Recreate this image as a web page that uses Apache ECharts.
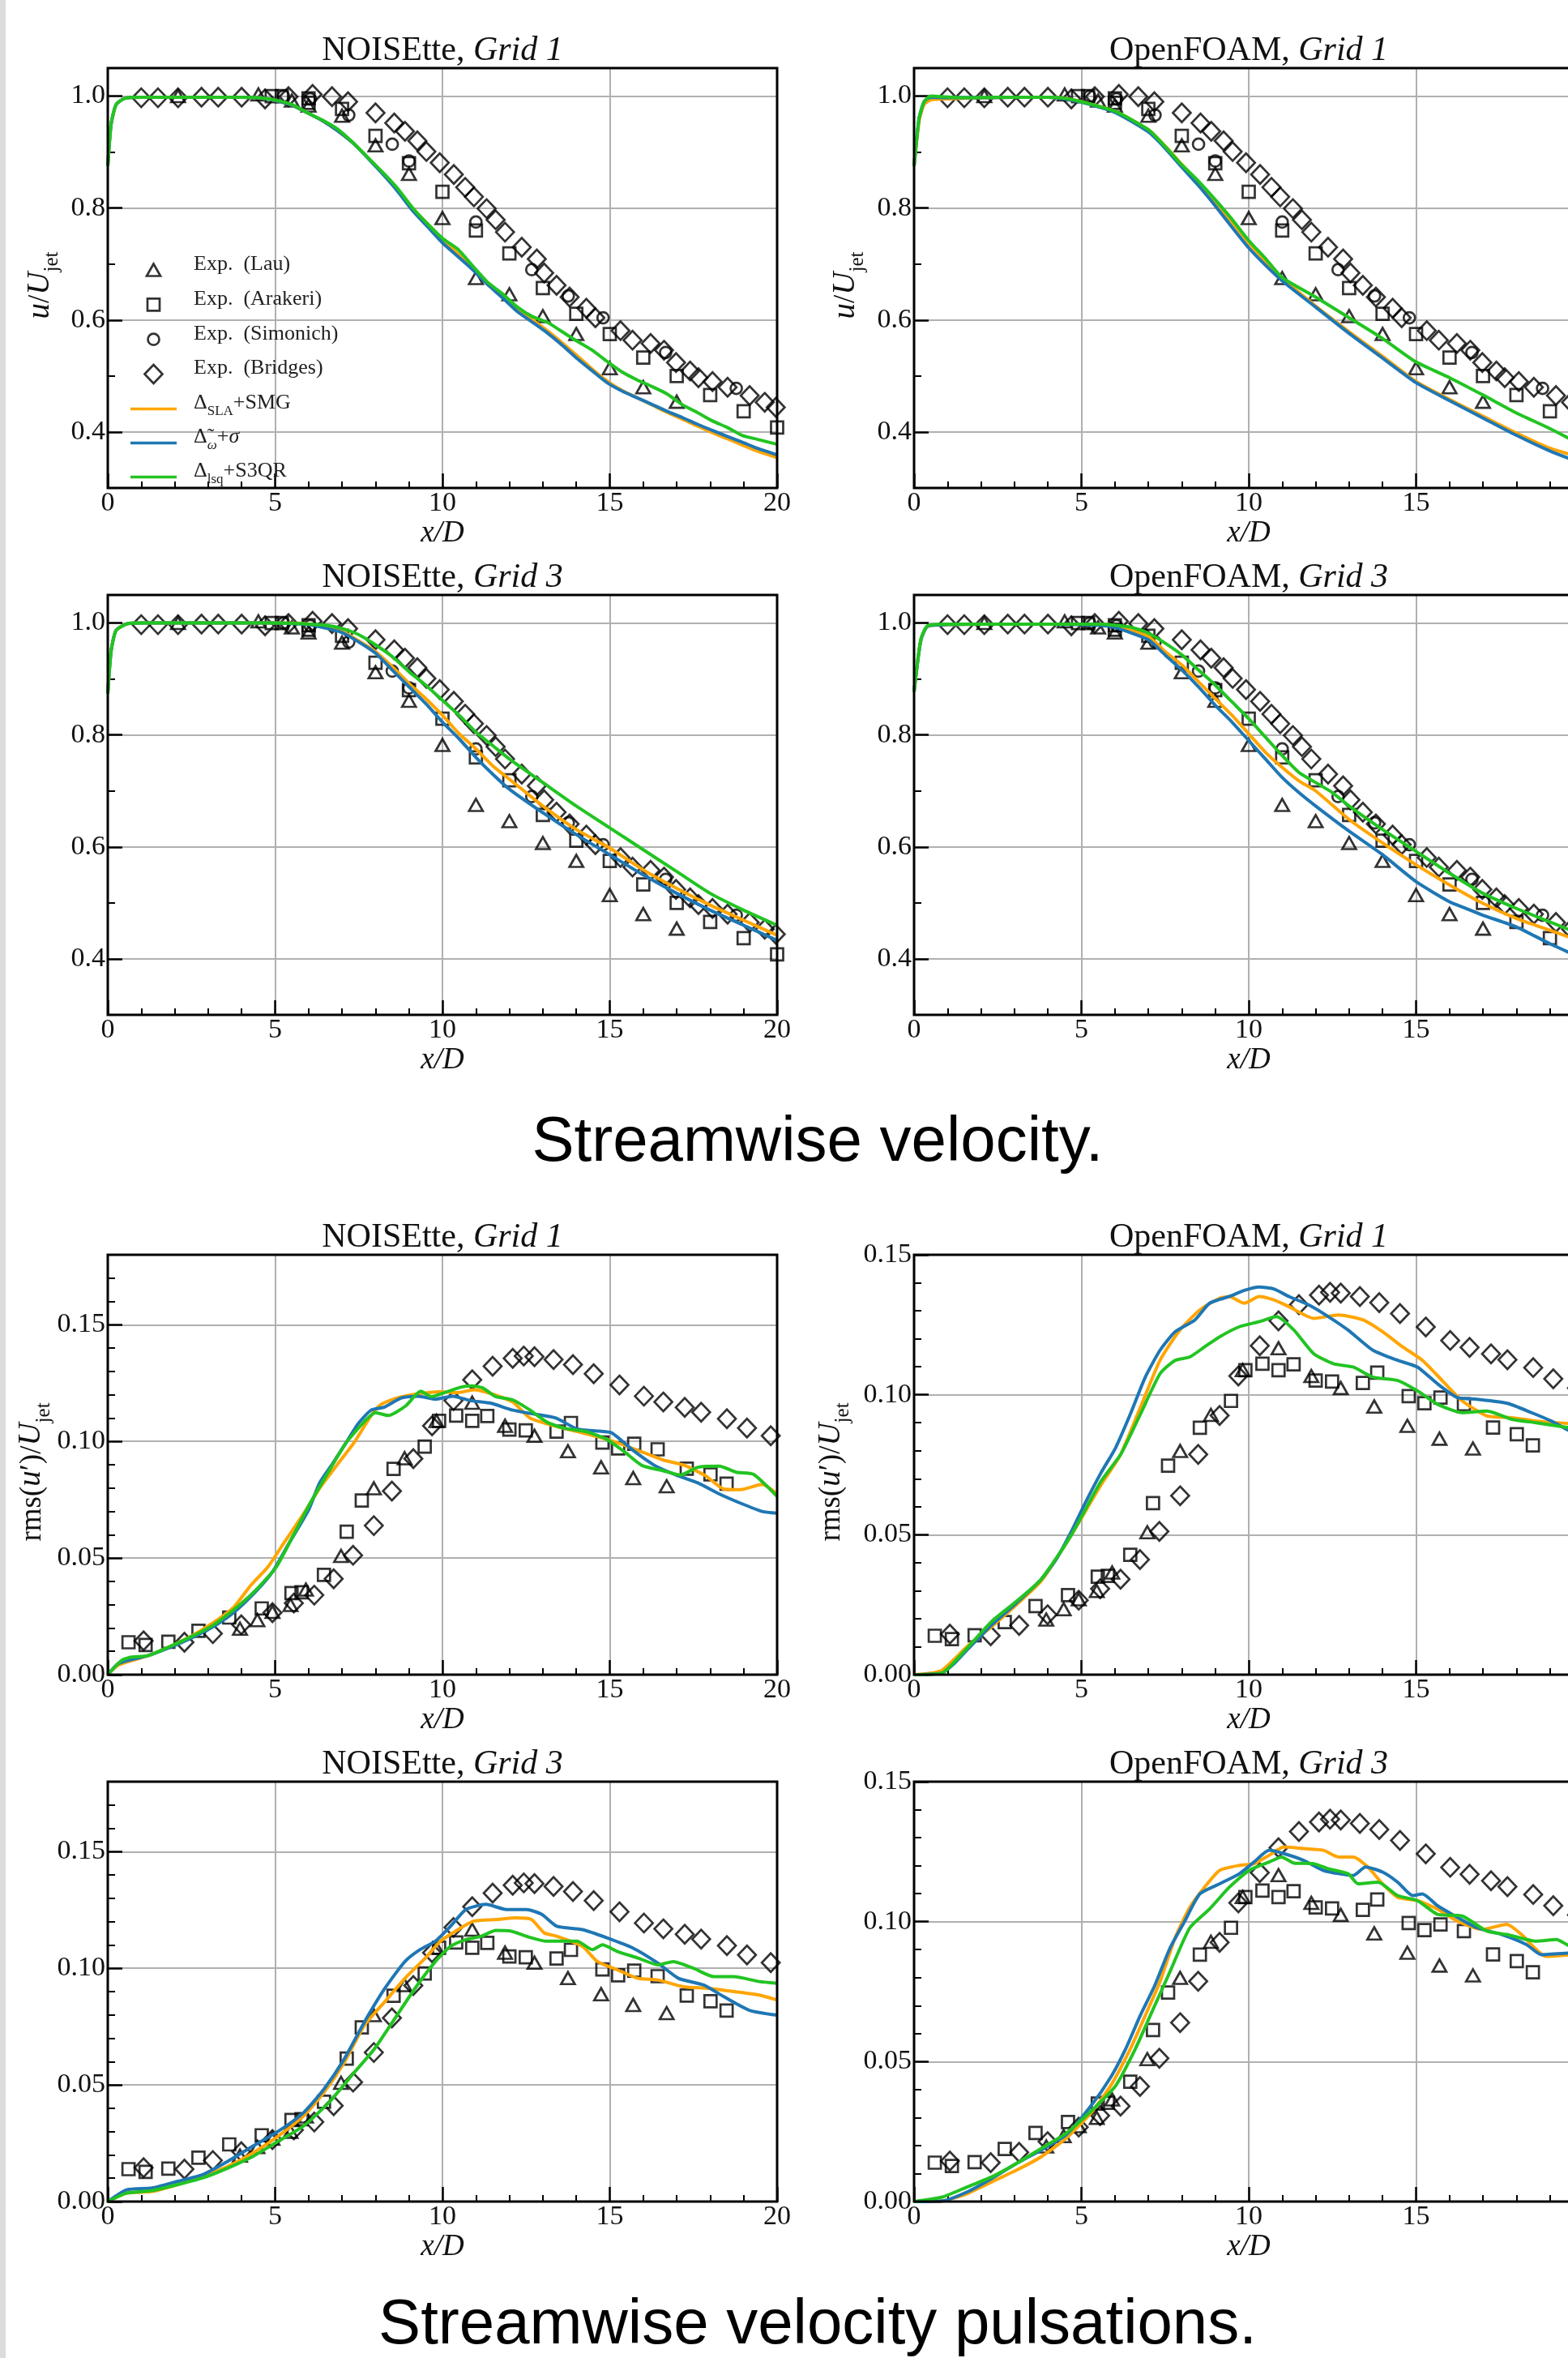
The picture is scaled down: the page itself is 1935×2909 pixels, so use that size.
<!DOCTYPE html>
<html>
<head>
<meta charset="utf-8">
<script src="https://cdn.jsdelivr.net/npm/echarts@6/dist/echarts.min.js"></script>
<style>
html, body { margin: 0; padding: 0; background: #fff; overflow: hidden; }
#chart { width: 1935px; height: 2909px; }
</style>
</head>
<body>
<div id="chart"></div>
<script>
// ---------- experimental data, u/U_jet (same in the four velocity panels) ----------
const uLau = [[2.1,1.0],[4.5,1.003],[5.5,0.992],[6.0,0.983],[7.0,0.965],[8.0,0.912],[9.0,0.861],[10.0,0.782],[11.0,0.675],[12.0,0.646],[13.0,0.607],[14.0,0.575],[15.0,0.514],[16.0,0.480],[17.0,0.454]];
const uArakeri = [[4.9,1.0],[5.2,1.0],[6.0,0.996],[6.0,0.988],[7.0,0.977],[8.0,0.929],[9.0,0.880],[10.0,0.829],[11.0,0.760],[12.0,0.719],[13.0,0.657],[14.0,0.611],[15.0,0.575],[16.0,0.533],[17.0,0.500],[18.0,0.466],[19.0,0.437],[20.0,0.408]];
const uSimonich = [[5.25,1.0],[6.05,0.995],[7.2,0.966],[8.5,0.914],[9.0,0.884],[11.0,0.775],[12.67,0.690],[13.76,0.643],[14.8,0.604],[16.67,0.542],[18.78,0.478]];
const uBridges = [[1.0,0.997],[1.5,0.997],[2.1,0.997],[2.8,0.998],[3.3,0.998],[4.0,0.998],[4.7,0.995],[5.4,0.999],[6.12,1.003],[6.7,0.999],[7.18,0.99],[8.0,0.97],[8.56,0.952],[8.88,0.937],[9.25,0.92],[9.52,0.901],[9.92,0.881],[10.34,0.86],[10.68,0.837],[10.94,0.82],[11.32,0.799],[11.59,0.779],[11.87,0.757],[12.37,0.73],[12.82,0.709],[13.04,0.684],[13.41,0.662],[13.8,0.641],[14.3,0.621],[14.57,0.604],[15.32,0.581],[15.68,0.564],[16.22,0.558],[16.62,0.546],[16.98,0.524],[17.4,0.509],[17.65,0.497],[18.07,0.49],[18.52,0.48],[19.18,0.465],[19.63,0.453],[19.96,0.444]];

// ---------- experimental data, rms(u')/U_jet (same in the four pulsation panels) ----------
const rmsLau = [[3.95,0.0197],[4.47,0.0234],[4.92,0.0269],[5.46,0.0299],[5.92,0.0365],[6.97,0.0509],[7.95,0.0799],[8.87,0.0928],[9.82,0.1088],[10.89,0.1166],[11.87,0.1067],[12.75,0.1024],[13.75,0.0958],[14.74,0.0889],[15.70,0.0843],[16.70,0.0808]];
const rmsArakeri = [[0.62,0.0139],[1.13,0.0127],[1.81,0.0141],[2.71,0.0188],[3.63,0.0245],[4.60,0.0284],[5.49,0.0350],[5.79,0.0353],[6.46,0.0428],[7.14,0.0613],[7.59,0.0747],[8.54,0.0882],[9.47,0.0978],[9.90,0.1088],[10.41,0.1111],[10.89,0.1088],[11.34,0.1109],[12.00,0.1051],[12.49,0.1047],[13.41,0.1042],[13.84,0.1079],[14.78,0.0995],[15.25,0.0970],[15.73,0.0990],[16.43,0.0966],[17.30,0.0883],[18.01,0.0859],[18.49,0.0819]];
const rmsBridges = [[1.07,0.0145],[2.29,0.0139],[3.14,0.0176],[3.99,0.0214],[4.92,0.0266],[5.56,0.0307],[6.17,0.0341],[6.75,0.0411],[7.33,0.0512],[7.95,0.0639],[8.49,0.0787],[9.13,0.0926],[9.69,0.1067],[10.33,0.1175],[10.89,0.1264],[11.50,0.1322],[12.10,0.1356],[12.43,0.1366],[12.75,0.1363],[13.32,0.1351],[13.90,0.1329],[14.52,0.1290],[15.29,0.1242],[16.02,0.1194],[16.60,0.1169],[17.24,0.1146],[17.73,0.1125],[18.50,0.1097],[19.10,0.1057],[19.81,0.1024]];

// ---------- simulations, u/U_jet ----------
const u_N1_sla = [[0,0.875],[0.1,0.95],[0.25,0.985],[0.5,0.996],[1,0.998],[2,0.998],[3,0.998],[4,0.998],[4.5,0.997],[5,0.992],[5.5,0.984],[5.97,0.970],[6.42,0.956],[6.87,0.938],[7.31,0.917],[7.76,0.891],[8.21,0.862],[8.66,0.833],[9.10,0.800],[9.55,0.772],[10.0,0.745],[10.45,0.719],[10.9,0.694],[11.34,0.667],[11.79,0.643],[12.24,0.619],[12.69,0.600],[13.13,0.581],[13.58,0.559],[14.03,0.536],[14.48,0.512],[14.92,0.491],[15.37,0.474],[15.82,0.461],[16.27,0.448],[16.71,0.435],[17.16,0.423],[17.61,0.411],[18.06,0.399],[18.51,0.388],[18.95,0.377],[19.40,0.366],[20,0.354]];
const u_N1_om = [[0,0.875],[0.1,0.95],[0.25,0.985],[0.5,0.996],[1,0.998],[2,0.998],[3,0.998],[4,0.998],[4.5,0.997],[5,0.992],[5.5,0.984],[5.97,0.970],[6.42,0.956],[6.87,0.938],[7.31,0.917],[7.76,0.890],[8.21,0.861],[8.66,0.830],[9.10,0.796],[9.55,0.767],[10.0,0.738],[10.45,0.714],[10.9,0.690],[11.34,0.664],[11.79,0.640],[12.24,0.615],[12.69,0.596],[13.13,0.577],[13.58,0.555],[14.03,0.531],[14.48,0.509],[14.92,0.488],[15.37,0.473],[15.82,0.461],[16.27,0.449],[16.71,0.437],[17.16,0.426],[17.61,0.414],[18.06,0.403],[18.51,0.392],[18.95,0.382],[19.40,0.371],[20,0.359]];
const u_N1_lsq = [[0,0.875],[0.1,0.95],[0.25,0.985],[0.5,0.996],[1,0.998],[2,0.998],[3,0.998],[4,0.998],[4.5,0.997],[5,0.993],[5.5,0.985],[5.97,0.970],[6.42,0.957],[6.87,0.941],[7.31,0.918],[7.76,0.891],[8.21,0.864],[8.66,0.835],[9.10,0.801],[9.55,0.772],[10.0,0.746],[10.45,0.727],[10.9,0.697],[11.34,0.668],[11.79,0.647],[12.24,0.623],[12.69,0.606],[13.13,0.596],[13.58,0.579],[14.03,0.562],[14.48,0.546],[14.92,0.526],[15.37,0.507],[15.82,0.493],[16.27,0.481],[16.71,0.468],[17.16,0.449],[17.61,0.435],[18.06,0.420],[18.51,0.408],[18.95,0.394],[19.40,0.387],[20,0.378]];

const u_O1_sla = [[0,0.875],[0.15,0.955],[0.3,0.985],[0.5,0.993],[1,0.995],[2,0.997],[3,0.998],[4,0.998],[4.5,0.996],[5,0.990],[6,0.973],[7,0.940],[7.5,0.911],[8,0.878],[8.5,0.846],[9,0.812],[9.5,0.775],[10,0.738],[10.5,0.705],[11,0.675],[12,0.625],[13,0.579],[14,0.535],[15,0.490],[16,0.458],[17,0.428],[18,0.398],[19,0.371],[20,0.353]];
const u_O1_om = [[0,0.875],[0.15,0.96],[0.3,0.99],[0.5,0.998],[1,0.997],[2,0.997],[3,0.998],[4,0.998],[4.5,0.995],[5,0.989],[6,0.971],[7,0.936],[7.5,0.907],[8,0.873],[8.5,0.840],[9,0.804],[9.5,0.766],[10,0.729],[10.5,0.698],[11,0.670],[12,0.623],[13,0.576],[14,0.532],[15,0.488],[16,0.456],[17,0.425],[18,0.394],[19,0.366],[20,0.343]];
const u_O1_lsq = [[0,0.875],[0.15,0.96],[0.3,0.99],[0.5,1.0],[0.8,0.999],[1.5,0.997],[2.5,0.998],[4,0.998],[4.5,0.996],[5,0.990],[6,0.973],[7,0.940],[7.5,0.910],[8,0.877],[8.5,0.848],[9,0.815],[9.5,0.780],[10,0.742],[10.5,0.710],[11,0.676],[12,0.641],[13,0.604],[14,0.567],[15,0.525],[16,0.497],[17,0.466],[18,0.434],[19,0.406],[20,0.375]];

const u_N3_sla = [[0,0.874],[0.1,0.95],[0.25,0.987],[0.6,0.999],[1,1.0],[2,1.0],[3,1.0],[4,1.0],[5,1.0],[6,0.998],[7,0.985],[7.5,0.968],[8,0.949],[8.5,0.922],[9,0.892],[9.5,0.865],[10,0.835],[10.5,0.802],[11,0.775],[11.5,0.745],[12,0.721],[12.5,0.697],[13,0.673],[14,0.631],[15,0.598],[16,0.559],[17,0.526],[18,0.496],[19,0.469],[20,0.442]];
const u_N3_om = [[0,0.874],[0.1,0.95],[0.25,0.987],[0.6,0.999],[1,1.0],[2,1.0],[3,1.0],[4,1.0],[5,1.0],[6,0.997],[7,0.983],[7.5,0.966],[8,0.946],[8.5,0.916],[9,0.886],[9.5,0.856],[10,0.823],[10.5,0.793],[11,0.760],[11.5,0.730],[12,0.703],[13,0.661],[14,0.622],[15,0.586],[16,0.550],[17,0.517],[18,0.487],[19,0.460],[20,0.433]];
const u_N3_lsq = [[0,0.874],[0.1,0.95],[0.25,0.987],[0.6,0.999],[1,1.0],[2,1.0],[3,1.0],[4,1.0],[5,1.0],[6,0.998],[6.5,0.996],[7,0.990],[7.5,0.979],[8,0.961],[8.5,0.940],[9,0.913],[9.5,0.889],[10,0.862],[10.5,0.835],[11,0.805],[11.5,0.781],[12,0.757],[13,0.715],[14,0.673],[15,0.634],[16,0.595],[17,0.556],[18,0.517],[19,0.487],[20,0.460]];

const u_O3_sla = [[0,0.877],[0.2,0.968],[0.4,0.994],[1,0.997],[2,0.998],[3,0.998],[4,0.998],[5,0.998],[5.5,0.998],[6,0.995],[7,0.976],[7.5,0.949],[8,0.925],[8.5,0.895],[9,0.865],[9.5,0.835],[10,0.802],[10.5,0.769],[11,0.742],[11.5,0.718],[12,0.700],[13,0.649],[14,0.607],[15,0.568],[16,0.532],[17,0.499],[18,0.472],[19,0.451],[20,0.430]];
const u_O3_om = [[0,0.877],[0.2,0.968],[0.4,0.994],[1,0.997],[2,0.998],[3,0.998],[4,0.998],[5,0.997],[5.5,0.996],[6,0.992],[7,0.970],[7.5,0.943],[8,0.916],[8.5,0.886],[9,0.853],[9.5,0.823],[10,0.790],[10.5,0.757],[11,0.724],[11.5,0.697],[12,0.673],[13,0.628],[14,0.586],[15,0.538],[16,0.502],[16.5,0.490],[17,0.478],[18,0.457],[19,0.427],[20,0.400]];
const u_O3_lsq = [[0,0.877],[0.2,0.97],[0.4,0.995],[1,0.998],[2,0.998],[3,0.998],[4,0.998],[5,0.998],[5.5,0.998],[6,0.996],[6.5,0.992],[7,0.982],[7.5,0.964],[8,0.943],[8.5,0.916],[9,0.889],[9.5,0.859],[10,0.829],[10.5,0.796],[11,0.763],[11.5,0.733],[12,0.715],[12.5,0.697],[13,0.673],[14,0.631],[15,0.592],[16,0.553],[17,0.517],[18,0.490],[19,0.466],[20,0.442]];

// ---------- simulations, rms(u')/U_jet ----------
const r_N1_sla = [[0,0],[0.3,0.0040],[0.7,0.0060],[1.19,0.0081],[1.84,0.0120],[2.48,0.0164],[3.12,0.0220],[3.76,0.0289],[4.27,0.0382],[4.79,0.0463],[5.30,0.0573],[5.82,0.0683],[6.33,0.0799],[6.84,0.0897],[7.36,0.0995],[7.87,0.1111],[8.15,0.1157],[8.64,0.1186],[9.28,0.1204],[9.92,0.1213],[10.44,0.1209],[10.95,0.1221],[11.46,0.1204],[12.10,0.1169],[12.62,0.1100],[13.39,0.1065],[14.03,0.1042],[14.67,0.1019],[15.31,0.0990],[15.96,0.0955],[16.60,0.0920],[17.24,0.0897],[17.88,0.0851],[18.40,0.0796],[18.91,0.0793],[19.55,0.0816],[20,0.0775]];
const r_N1_om = [[0,0],[0.3,0.0046],[0.68,0.0064],[1.19,0.0081],[1.84,0.0116],[2.48,0.0156],[3.12,0.0203],[3.76,0.0266],[4.40,0.0353],[4.92,0.0440],[5.43,0.0567],[6.0,0.0706],[6.33,0.0822],[6.71,0.0903],[7.10,0.0990],[7.48,0.1076],[7.87,0.1134],[8.25,0.1146],[8.77,0.1186],[9.28,0.1194],[9.79,0.1181],[10.31,0.1194],[10.82,0.1175],[11.46,0.1163],[12.10,0.1134],[12.75,0.1117],[13.39,0.1100],[14.03,0.1053],[14.67,0.1044],[15.06,0.1036],[15.70,0.0961],[16.34,0.0897],[16.98,0.0856],[17.63,0.0822],[18.27,0.0775],[18.91,0.0735],[19.55,0.0700],[20,0.0692]];
const r_N1_lsq = [[0,0],[0.4,0.0060],[0.68,0.0075],[1.19,0.0081],[1.84,0.0120],[2.48,0.0162],[3.12,0.0210],[3.76,0.0278],[4.40,0.0359],[5.04,0.0463],[5.56,0.0602],[6.07,0.0741],[6.59,0.0868],[7.10,0.0990],[7.61,0.1076],[8.0,0.1123],[8.38,0.1111],[8.90,0.1152],[9.35,0.1215],[9.67,0.1192],[10.18,0.1215],[10.57,0.1233],[10.89,0.1238],[11.21,0.1229],[11.59,0.1192],[12.10,0.1178],[12.62,0.1134],[13.13,0.1082],[13.65,0.1056],[14.29,0.1042],[14.93,0.1007],[15.44,0.0955],[15.96,0.0897],[16.60,0.0874],[17.11,0.0856],[17.63,0.0889],[18.27,0.0894],[18.78,0.0868],[19.29,0.0859],[20,0.0764]];

const r_O1_sla = [[0,0],[0.5,0.0005],[0.84,0.0016],[1.2,0.0055],[1.58,0.0100],[2.32,0.0172],[3.06,0.0250],[3.80,0.0335],[4.69,0.0497],[5.58,0.0677],[6.17,0.0786],[6.76,0.0954],[7.35,0.1123],[7.94,0.1231],[8.54,0.1303],[9.13,0.1345],[9.42,0.1351],[9.87,0.1327],[10.31,0.1351],[10.75,0.1339],[11.20,0.1315],[11.94,0.1273],[12.68,0.1285],[13.42,0.1267],[14.0,0.1225],[14.60,0.1171],[15.19,0.1123],[15.78,0.1051],[16.38,0.0978],[17.12,0.0924],[17.86,0.0918],[18.59,0.0906],[19.60,0.0897],[20,0.0895]];
const r_O1_om = [[0,0],[0.84,0.0006],[1.2,0.0040],[1.58,0.0088],[2.32,0.0178],[3.06,0.0256],[3.80,0.0341],[4.25,0.0413],[4.69,0.0509],[5.13,0.0617],[5.58,0.0720],[6.02,0.0810],[6.46,0.0930],[6.91,0.1063],[7.35,0.1159],[7.80,0.1225],[8.39,0.1267],[8.83,0.1327],[9.42,0.1351],[9.87,0.1373],[10.31,0.1385],[10.75,0.1378],[11.20,0.1351],[11.79,0.1321],[12.38,0.1279],[12.97,0.1231],[13.71,0.1159],[14.45,0.1123],[15.04,0.1099],[15.64,0.1039],[16.23,0.0990],[16.82,0.0984],[17.71,0.0970],[18.45,0.0936],[19.04,0.0906],[19.60,0.0870],[20,0.0850]];
const r_O1_lsq = [[0,0],[0.84,0.0006],[1.2,0.0045],[1.58,0.0094],[2.32,0.0190],[3.06,0.0262],[3.80,0.0341],[4.69,0.0497],[5.58,0.0690],[6.17,0.0786],[6.76,0.0930],[7.35,0.1075],[7.80,0.1123],[8.24,0.1135],[8.68,0.1171],[9.13,0.1207],[9.72,0.1243],[10.31,0.1261],[10.83,0.1279],[11.35,0.1231],[11.94,0.1147],[12.53,0.1111],[13.12,0.1099],[13.71,0.1063],[14.45,0.1051],[15.04,0.1014],[15.64,0.0966],[16.38,0.0936],[17.12,0.0942],[17.86,0.0912],[18.59,0.0900],[19.60,0.0882],[20,0.0880]];

const r_N3_sla = [[0,0],[0.56,0.0036],[1.32,0.0043],[2.07,0.0072],[2.83,0.0108],[3.59,0.0151],[4.34,0.0209],[5.10,0.0281],[5.85,0.0367],[6.46,0.0468],[7.07,0.0597],[7.67,0.0756],[8.28,0.0857],[8.88,0.0957],[9.49,0.1044],[9.94,0.1116],[10.39,0.1159],[10.92,0.1202],[11.60,0.1209],[12.21,0.1216],[12.66,0.1209],[13.04,0.1152],[13.42,0.1137],[14.18,0.1094],[14.63,0.1029],[15.23,0.0993],[15.84,0.0957],[16.44,0.0950],[17.20,0.0921],[17.96,0.0914],[18.71,0.0900],[19.47,0.0885],[20,0.0864]];
const r_N3_om = [[0,0],[0.56,0.0050],[1.32,0.0058],[2.07,0.0086],[2.83,0.0115],[3.59,0.0173],[4.34,0.0238],[5.10,0.0302],[5.85,0.0381],[6.46,0.0482],[7.07,0.0612],[7.67,0.0770],[8.28,0.0914],[8.88,0.1029],[9.33,0.1080],[9.79,0.1116],[10.24,0.1180],[10.70,0.1252],[11.30,0.1274],[11.91,0.1252],[12.51,0.1252],[12.97,0.1231],[13.42,0.1180],[14.18,0.1166],[14.93,0.1130],[15.69,0.1087],[16.44,0.1022],[17.05,0.0957],[17.81,0.0928],[18.41,0.0878],[19.17,0.0820],[20,0.0799]];
const r_N3_lsq = [[0,0],[0.56,0.0036],[1.32,0.0047],[2.07,0.0072],[2.83,0.0101],[3.59,0.0144],[4.34,0.0194],[5.10,0.0259],[5.85,0.0324],[6.61,0.0425],[7.37,0.0554],[7.97,0.0655],[8.58,0.0785],[9.18,0.0914],[9.79,0.1029],[10.24,0.1094],[10.70,0.1123],[11.15,0.1137],[11.60,0.1162],[12.06,0.1159],[12.51,0.1137],[13.12,0.1116],[13.57,0.1116],[14.02,0.1116],[14.48,0.1080],[14.78,0.1101],[15.23,0.1072],[15.84,0.1044],[16.44,0.1015],[16.90,0.1029],[17.50,0.1000],[18.11,0.0964],[18.71,0.0964],[19.47,0.0943],[20,0.0936]];

const r_O3_sla = [[0,0],[0.84,0.0002],[1.58,0.0028],[2.32,0.0070],[3.06,0.0112],[3.80,0.0160],[4.54,0.0226],[5.28,0.0316],[5.87,0.0413],[6.46,0.0545],[6.91,0.0665],[7.35,0.0786],[7.80,0.0942],[8.24,0.1051],[8.68,0.1123],[9.13,0.1183],[9.72,0.1201],[10.16,0.1207],[10.61,0.1237],[11.05,0.1267],[11.64,0.1261],[12.23,0.1255],[12.68,0.1231],[13.12,0.1231],[13.56,0.1195],[14.0,0.1135],[14.45,0.1087],[15.04,0.1075],[15.64,0.1045],[16.23,0.1002],[16.97,0.0972],[17.71,0.0990],[18.15,0.0954],[18.89,0.0876],[19.60,0.0882],[20,0.0890]];
const r_O3_om = [[0,0],[0.84,0.0002],[1.58,0.0034],[2.32,0.0082],[3.06,0.0136],[3.80,0.0184],[4.54,0.0238],[5.28,0.0341],[5.87,0.0443],[6.32,0.0545],[6.76,0.0665],[7.20,0.0774],[7.65,0.0906],[8.09,0.1002],[8.54,0.1099],[9.13,0.1135],[9.72,0.1171],[10.16,0.1213],[10.61,0.1255],[11.05,0.1243],[11.64,0.1219],[12.23,0.1183],[13.12,0.1165],[13.49,0.1195],[14.0,0.1177],[14.45,0.1141],[14.90,0.1093],[15.19,0.1099],[15.64,0.1057],[16.08,0.1026],[16.82,0.0978],[17.56,0.0954],[18.30,0.0918],[18.74,0.0882],[19.60,0.0888],[20,0.0890]];
const r_O3_lsq = [[0,0],[0.84,0.0016],[1.58,0.0052],[2.32,0.0088],[3.06,0.0136],[3.80,0.0190],[4.54,0.0244],[5.28,0.0322],[6.02,0.0413],[6.61,0.0545],[7.06,0.0665],[7.65,0.0822],[8.24,0.0978],[8.83,0.1045],[9.42,0.1123],[10.01,0.1183],[10.61,0.1213],[10.98,0.1231],[11.35,0.1209],[11.94,0.1207],[12.38,0.1189],[12.97,0.1171],[13.27,0.1135],[13.86,0.1141],[14.45,0.1093],[15.04,0.1075],[15.64,0.1026],[16.38,0.1020],[17.12,0.0966],[17.71,0.0954],[18.59,0.0930],[19.19,0.0936],[19.60,0.0912],[20,0.0900]];

// ---------- tick values ----------
const xMax = 20;
const uMajor = [0.4, 0.6, 0.8, 1.0];
const uMinor = [0.5, 0.7, 0.9];
const rmsMajor = [0, 0.05, 0.10, 0.15];
const rmsMinor18 = [0.01,0.02,0.03,0.04,0.06,0.07,0.08,0.09,0.11,0.12,0.13,0.14,0.16,0.17];
const rmsMinor15 = [0.01,0.02,0.03,0.04,0.06,0.07,0.08,0.09,0.11,0.12,0.13,0.14];

const EXP_NAMES = ['Exp. (Lau)', 'Exp. (Arakeri)', 'Exp. (Simonich)', 'Exp. (Bridges)'];
const LINE_NAMES = ['Δ_SLA+SMG', 'Δ̃_ω+σ', 'Δ_lsq+S3QR'];

const panels = [
  { code: 'NOISEtte', gridName: 'Grid 1', kind: 'u', col: 0, row: 0, yName: true, lines: [u_N1_sla, u_N1_om, u_N1_lsq] },
  { code: 'OpenFOAM', gridName: 'Grid 1', kind: 'u', col: 1, row: 0, yName: true, lines: [u_O1_sla, u_O1_om, u_O1_lsq] },
  { code: 'NOISEtte', gridName: 'Grid 3', kind: 'u', col: 0, row: 1, yName: false, lines: [u_N3_sla, u_N3_om, u_N3_lsq] },
  { code: 'OpenFOAM', gridName: 'Grid 3', kind: 'u', col: 1, row: 1, yName: false, lines: [u_O3_sla, u_O3_om, u_O3_lsq] },
  { code: 'NOISEtte', gridName: 'Grid 1', kind: 'rms', ymax: 0.18, col: 0, row: 2, yName: true, lines: [r_N1_sla, r_N1_om, r_N1_lsq] },
  { code: 'OpenFOAM', gridName: 'Grid 1', kind: 'rms', ymax: 0.15, col: 1, row: 2, yName: true, lines: [r_O1_sla, r_O1_om, r_O1_lsq] },
  { code: 'NOISEtte', gridName: 'Grid 3', kind: 'rms', ymax: 0.18, col: 0, row: 3, yName: false, lines: [r_N3_sla, r_N3_om, r_N3_lsq] },
  { code: 'OpenFOAM', gridName: 'Grid 3', kind: 'rms', ymax: 0.15, col: 1, row: 3, yName: false, lines: [r_O3_sla, r_O3_om, r_O3_lsq] },
];

// ---------- style / layout ----------
const SERIF = "'Liberation Serif', 'DejaVu Serif', serif";
const SANS = "'Liberation Sans', Arial, sans-serif";
const INK = '#111';
const GRID_GRAY = '#b0b0b0';
const COLORS = ['#ffa500', '#1f77b4', '#22c422'];
const SYMBOLS = ['triangle', 'rect', 'circle', 'diamond'];
const SIZES = [[17, 15], 15, 14, [22, 23]];

// legend handles, drawn in a 23 px high box (the leading moves only pad the box)
const LEGEND_ICONS = [
  'path://M-3,-4M20,19M0,15L8.5,0L17,15Z',
  'path://M-4,-4M19,19M0,0H15V15H0Z',
  'path://M-4.5,-4.5M18.5,18.5M14,7A7,7,0,1,1,0,7A7,7,0,1,1,14,7Z',
  'path://M0,11.5L11,0L22,11.5L11,23Z',
];
const LINE_ICON = 'path://M0,0H57V3.5H0Z';

const PW = 826, PH = 518;
const colLeft = [133, 1128];
const rowTop = [84, 734, 1548, 2198];
const nameGapY = { u: [56, 57], rms: [65, 75] };

const nameRich = {
  i: { fontFamily: SERIF, fontStyle: 'italic', fontSize: 39, color: INK, lineHeight: 32, verticalAlign: 'bottom', padding: [0, 0, 8, 0] },
  r: { fontFamily: SERIF, fontSize: 37, color: INK, lineHeight: 32, verticalAlign: 'bottom', padding: [0, 0, 8, 0] },
  s: { fontFamily: SERIF, fontSize: 25, color: INK, lineHeight: 22, verticalAlign: 'bottom', padding: [0, 18, 0, 0] },
};

const grid = [], xAxis = [], yAxis = [], series = [];
const graphic = [
  { type: 'rect', shape: { x: 0, y: 0, width: 7, height: 2909 }, style: { fill: '#dcdcdc' }, silent: true },
  { type: 'text', x: 1009, y: 1410, style: { text: 'Streamwise velocity.', fontFamily: SANS, fontSize: 78, fill: '#000', align: 'center', verticalAlign: 'middle' } },
  { type: 'text', x: 1009, y: 2869, style: { text: 'Streamwise velocity pulsations.', fontFamily: SANS, fontSize: 78, fill: '#000', align: 'center', verticalAlign: 'middle' } },
];

panels.forEach((p, i) => {
  const left = colLeft[p.col], top = rowTop[p.row];
  const vel = p.kind === 'u';

  grid.push({
    left, top, width: PW, height: PH,
    show: true, borderColor: '#000', borderWidth: 3, backgroundColor: 'transparent',
    z: 10, containLabel: false, outerBoundsMode: 'none',
  });

  xAxis.push({
    type: 'value', gridIndex: i, min: 0, max: xMax, interval: 5,
    name: '{i|x/D}', nameLocation: 'middle', nameGap: 38,
    nameTextStyle: { rich: { i: { fontFamily: SERIF, fontStyle: 'italic', fontSize: 37, color: INK } } },
    axisLine: { show: false },
    axisTick: { show: true, inside: true, length: 18, lineStyle: { color: '#000', width: 2.5 } },
    minorTick: { show: true, splitNumber: 5, length: 8, lineStyle: { color: '#000', width: 2 } },
    axisLabel: { margin: 2, fontFamily: SERIF, fontSize: 34, color: INK },
    splitLine: { show: true, lineStyle: { color: GRID_GRAY, width: 2 } },
  });

  const ymin = vel ? 0.3 : 0;
  const ymax = vel ? 1.05 : p.ymax;
  const major = vel ? uMajor : rmsMajor;
  const minor = vel ? uMinor : (p.ymax > 0.16 ? rmsMinor18 : rmsMinor15);
  const fmt = v => v.toFixed(vel ? 1 : 2);

  yAxis.push({
    type: 'value', gridIndex: i, position: 'left', min: ymin, max: ymax, interval: vel ? 0.1 : 0.01,
    name: p.yName ? (vel ? '{i|u}{r|/}{i|U}{s|jet}' : '{r|rms(}{i|u}{r|′)/}{i|U}{s|jet}') : '',
    nameLocation: 'middle', nameGap: nameGapY[p.kind][p.col],
    nameTextStyle: { rich: nameRich },
    axisLine: { show: false },
    axisTick: { show: true, inside: true, length: 18, customValues: major, lineStyle: { color: '#000', width: 2.5 } },
    axisLabel: { margin: 3, customValues: major, formatter: fmt, fontFamily: SERIF, fontSize: 34, color: INK },
    splitLine: { show: true, lineStyle: { color: GRID_GRAY, width: 2 } },
  });
  // minor ticks on an overlay axis
  yAxis.push({
    type: 'value', gridIndex: i, position: 'left', min: ymin, max: ymax, interval: vel ? 0.1 : 0.01,
    axisLine: { show: false },
    axisTick: { show: true, inside: true, length: 9, customValues: minor, lineStyle: { color: '#000', width: 2 } },
    axisLabel: { show: false },
    splitLine: { show: false },
  });

  const expSets = vel ? [uLau, uArakeri, uSimonich, uBridges] : [rmsLau, rmsArakeri, null, rmsBridges];
  expSets.forEach((d, k) => {
    if (!d) return;
    series.push({
      type: 'scatter', name: EXP_NAMES[k], xAxisIndex: i, yAxisIndex: 2 * i, data: d,
      symbol: SYMBOLS[k], symbolSize: SIZES[k],
      itemStyle: { color: 'rgba(0,0,0,0)', borderColor: '#000', borderWidth: 2.7 },
      emphasis: { disabled: true }, silent: true,
    });
  });
  p.lines.forEach((d, k) => {
    series.push({
      type: 'line', name: LINE_NAMES[k], xAxisIndex: i, yAxisIndex: 2 * i, data: d,
      symbol: 'none', showSymbol: false, smooth: 0.2,
      lineStyle: { color: COLORS[k], width: 4 }, itemStyle: { color: COLORS[k] },
      emphasis: { disabled: true }, silent: true,
    });
  });

  graphic.push({
    type: 'text', x: left + PW / 2, y: top - 21, z: 20,
    style: {
      text: '{n|' + p.code + ', }{it|' + p.gridName + '}',
      rich: {
        n: { fontFamily: SERIF, fontSize: 42, fill: INK },
        it: { fontFamily: SERIF, fontSize: 42, fontStyle: 'italic', fill: INK },
      },
      align: 'center', verticalAlign: 'middle',
    },
  });
});

const legendText = {
  'Exp. (Lau)': '{g| }{a|Exp.  (Lau)}',
  'Exp. (Arakeri)': '{g| }{a|Exp.  (Arakeri)}',
  'Exp. (Simonich)': '{g| }{a|Exp.  (Simonich)}',
  'Exp. (Bridges)': '{g| }{a|Exp.  (Bridges)}',
  'Δ_SLA+SMG': '{g| }{a|Δ}{s|SLA}{a|+SMG}',
  'Δ̃_ω+σ': '{g| }{a|Δ̃}{si|ω}{a|+}{ai|σ}',
  'Δ_lsq+S3QR': '{g| }{a|Δ}{s|lsq}{a|+S3QR}',
};

const legendData = EXP_NAMES.map((n, k) => ({ name: n, icon: LEGEND_ICONS[k] }))
  .concat(LINE_NAMES.map(n => ({ name: n, icon: LINE_ICON })));

const chart = echarts.init(document.getElementById('chart'), null, { renderer: 'canvas' });
chart.setOption({
  animation: false,
  backgroundColor: '#fff',
  grid, xAxis, yAxis, series, graphic,
  legend: {
    data: legendData,
    orient: 'vertical', left: 156, top: 308,
    itemWidth: 57, itemHeight: 23, itemGap: 10,
    symbolKeepAspect: true,
    selectedMode: false,
    formatter: name => legendText[name],
    itemStyle: { borderWidth: 2.7 },
    textStyle: {
      fontFamily: SERIF, fontSize: 26, color: '#222',
      rich: {
        g: { width: 16, lineHeight: 24, padding: [0, 0, 6, 0], verticalAlign: 'bottom' },
        a: { fontFamily: SERIF, fontSize: 26, color: '#222', lineHeight: 24, padding: [0, 0, 6, 0], verticalAlign: 'bottom' },
        ai: { fontFamily: SERIF, fontSize: 26, fontStyle: 'italic', color: '#222', lineHeight: 24, padding: [0, 0, 6, 0], verticalAlign: 'bottom' },
        s: { fontFamily: SERIF, fontSize: 17, color: '#222', lineHeight: 20, verticalAlign: 'bottom' },
        si: { fontFamily: SERIF, fontSize: 17, fontStyle: 'italic', color: '#222', lineHeight: 20, verticalAlign: 'bottom' },
      },
    },
  },
});
</script>
</body>
</html>
